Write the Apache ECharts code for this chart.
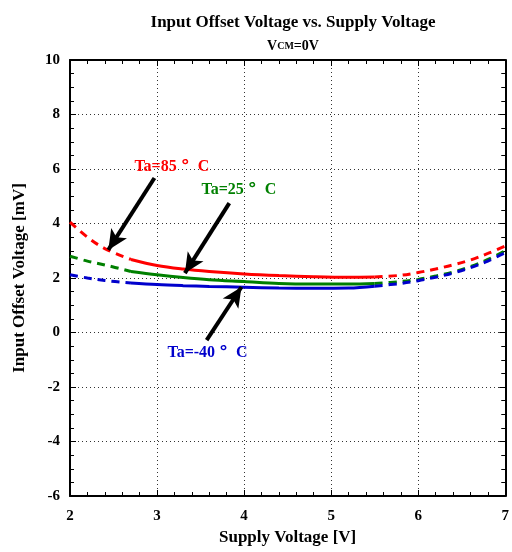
<!DOCTYPE html>
<html><head><meta charset="utf-8">
<script src="https://cdn.jsdelivr.net/npm/echarts@6/dist/echarts.min.js"></script>
<style>html,body{margin:0;padding:0;background:#fff}#c{width:512px;height:552px}</style>
</head><body><div id="c"></div>
<script>
// Supply voltage (V)
var voltage = [2.0, 2.2, 2.4, 2.7, 3.0, 3.3, 3.6, 4.0, 4.4, 4.8, 5.2, 5.5, 5.8, 6.0, 6.2, 6.4, 6.6, 6.8, 7.0];
// Input offset voltage (mV)
var ta85  = [4.05, 3.50, 3.08, 2.68, 2.46, 2.33, 2.24, 2.15, 2.09, 2.05, 2.03, 2.04, 2.10, 2.20, 2.33, 2.48, 2.66, 2.90, 3.17];
var ta25  = [2.80, 2.62, 2.48, 2.24, 2.12, 2.02, 1.94, 1.87, 1.80, 1.78, 1.78, 1.80, 1.87, 1.95, 2.07, 2.22, 2.42, 2.68, 3.00];
var taM40 = [2.12, 2.00, 1.91, 1.82, 1.76, 1.72, 1.69, 1.66, 1.63, 1.62, 1.63, 1.70, 1.80, 1.90, 2.03, 2.18, 2.38, 2.62, 2.93];
var solidStart = 3, solidEnd = 11; // index range drawn solid
var xTicks = [2, 3, 4, 5, 6, 7];
var yTicks = [-6, -4, -2, 0, 2, 4, 6, 8, 10];
// annotations: label parts, label position [V, mV], arrow from, arrow to
var labelTemps = ['85', '25', '-40'];
var labelPos = [[3.17, 6.07], [3.94, 5.23], [3.58, -0.75]];
var arrowFrom = [[2.97, 5.67], [3.83, 4.75], [3.57, -0.28]];
var arrowTo = [[2.44, 3.03], [3.32, 2.18], [3.97, 1.67]];

var colors = ['#ff0000', '#008000', '#0000cc'];
var curves = [ta85, ta25, taM40];
var FONT = '"Liberation Serif", "Times New Roman", serif';

function pts(arr, a, b) {
  var out = [];
  for (var i = a; i <= b; i++) out.push([voltage[i], arr[i]]);
  return out;
}
var series = [];
curves.forEach(function (arr, k) {
  var base = { type: 'line', smooth: 0.35, showSymbol: false, symbol: 'none', silent: true, z: 3 };
  var tStyle = { fontFamily: FONT, fontWeight: 'bold', fontSize: 16, color: colors[k] };
  series.push(Object.assign({}, base, { data: pts(arr, 0, solidStart), lineStyle: { color: colors[k], width: 3, type: [8, 6] } }));
  series.push(Object.assign({}, base, {
    data: pts(arr, solidStart, solidEnd), lineStyle: { color: colors[k], width: 3, type: 'solid' },
    markLine: {
      silent: true, symbol: ['none', 'arrow'], symbolSize: [14, 20], animation: false,
      lineStyle: { color: '#000', width: 4, type: 'solid' }, label: { show: false },
      data: [[{ coord: arrowFrom[k] }, { coord: arrowTo[k] }]], z: 5
    },
    markPoint: {
      silent: true, symbol: 'circle', symbolSize: 0, animation: false,
      label: { show: true, position: 'inside',
        formatter: '{t|Ta=' + labelTemps[k] + ' }{d|\u00B0}{t|  C}',
        rich: { t: tStyle, d: Object.assign({}, tStyle, { fontSize: 18, fontFamily: '"DejaVu Sans", sans-serif' }) } },
      data: [{ coord: labelPos[k] }]
    }
  }));
  series.push(Object.assign({}, base, { data: pts(arr, solidEnd, voltage.length - 1), lineStyle: { color: colors[k], width: 3, type: [8, 6] } }));
});

var chart = echarts.init(document.getElementById('c'), null, { renderer: 'canvas' });
var axisLine = { show: true, onZero: false, lineStyle: { color: '#000', width: 2 } };
var splitLine = { show: true, lineStyle: { color: '#333', width: 1, type: [1, 3] } };
chart.setOption({
  animation: false,
  backgroundColor: '#fff',
  title: [
    { text: 'Input Offset Voltage vs. Supply Voltage', left: 288, top: 9, textAlign: 'center',
      textStyle: { fontFamily: FONT, fontWeight: 'bold', fontSize: 17, color: '#000' } },
    { text: '{a|V}{b|CM}{a|=0V}', left: 288, top: 34, textAlign: 'center',
      textStyle: { rich: {
        a: { fontFamily: FONT, fontWeight: 'bold', fontSize: 14, color: '#000' },
        b: { fontFamily: FONT, fontWeight: 'bold', fontSize: 10, color: '#000' } } } }
  ],
  grid: { left: 70, right: 6, top: 60, bottom: 56 },
  xAxis: [
    { type: 'value', min: xTicks[0], max: xTicks[xTicks.length - 1], interval: 1, position: 'bottom',
      name: 'Supply Voltage [V]', nameLocation: 'middle', nameGap: 31,
      nameTextStyle: { fontFamily: FONT, fontWeight: 'bold', fontSize: 17, color: '#000' },
      axisLine: axisLine, axisTick: { show: true, inside: true, length: 6, lineStyle: { color: '#000', width: 1 } },
      minorTick: { show: true, splitNumber: 5, length: 4, lineStyle: { color: '#000', width: 1 } },
      axisLabel: { margin: 13, fontFamily: FONT, fontWeight: 'bold', fontSize: 15, color: '#000', showMinLabel: true, showMaxLabel: true },
      splitLine: splitLine },
    { type: 'value', min: xTicks[0], max: xTicks[xTicks.length - 1], interval: 1, position: 'top',
      axisLine: axisLine, axisTick: { show: true, inside: true, length: 6, lineStyle: { color: '#000', width: 1 } },
      minorTick: { show: true, splitNumber: 5, length: 4, lineStyle: { color: '#000', width: 1 } },
      axisLabel: { show: false }, splitLine: { show: false } }
  ],
  yAxis: [
    { type: 'value', min: yTicks[0], max: yTicks[yTicks.length - 1], interval: 2, position: 'left',
      name: 'Input Offset Voltage [mV]', nameLocation: 'middle', nameGap: 42,
      nameTextStyle: { fontFamily: FONT, fontWeight: 'bold', fontSize: 17, color: '#000' },
      axisLine: axisLine, axisTick: { show: true, inside: true, length: 6, lineStyle: { color: '#000', width: 1 } },
      minorTick: { show: true, splitNumber: 4, length: 4, lineStyle: { color: '#000', width: 1 } },
      axisLabel: { margin: 10, fontFamily: FONT, fontWeight: 'bold', fontSize: 15, color: '#000', showMinLabel: true, showMaxLabel: true },
      splitLine: splitLine },
    { type: 'value', min: yTicks[0], max: yTicks[yTicks.length - 1], interval: 2, position: 'right',
      axisLine: axisLine, axisTick: { show: true, inside: true, length: 6, lineStyle: { color: '#000', width: 1 } },
      minorTick: { show: true, splitNumber: 4, length: 4, lineStyle: { color: '#000', width: 1 } },
      axisLabel: { show: false }, splitLine: { show: false } }
  ],
  series: series
});
</script>
</body></html>
